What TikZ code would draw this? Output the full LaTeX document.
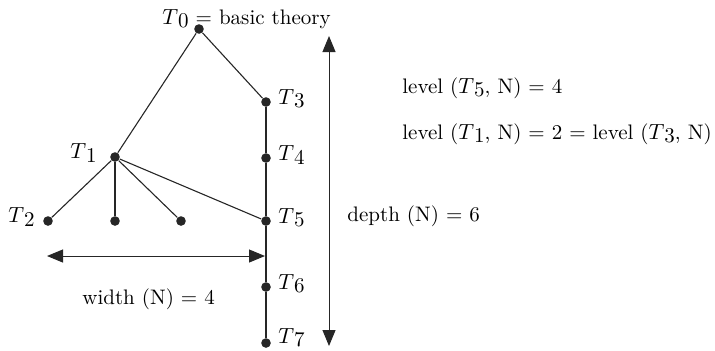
\documentclass[tikz,border=0pt]{standalone}
\usepackage{tikz}
\usetikzlibrary{arrows.meta,positioning}

% theory name with its number set level with the letter, a little lower
\newcommand{\tlab}[1]{$T$\raisebox{-0.35ex}{#1}}

\begin{document}
\begin{tikzpicture}[x=0.5pt,y=-0.5pt,
    every node/.style={font=\fontsize{10.5}{12}\selectfont},
    dot/.style={circle,fill=black!85,inner sep=0pt,minimum size=4.8pt},
    txt/.style={inner sep=0pt,anchor=base west},
    edge/.style={black!85,line width=0.55pt},
    bigarrow/.style={black!85,line width=0.5pt,
      {Triangle[length=8pt,width=6.5pt]}-{Triangle[length=8pt,width=6.5pt]}}]
  \useasboundingbox (0,0) rectangle (715,350);
  % the theories
  \foreach \name/\x/\y in {
    t0/199/29, t1/115/157, t2/48/221, ta/115/221, tb/181/221,
    t3/266/102, t4/266/158, t5/266/221, t6/266/287, t7/266/343}
    \node[dot] (\name) at (\x,\y) {};
  \foreach \a/\b in {t0/t1, t0/t3, t3/t4, t4/t5, t5/t6, t6/t7,
    t1/t2, t1/ta, t1/tb, t1/t5}
    \draw[edge] (\a) -- (\b);
  % names
  \node[txt] (l0) at (162,24) {\tlab{0} = basic theory};
  \node[left=3pt of t1,yshift=2pt] (l1) {\tlab{1}};
  \node[left=0.5pt of t2,yshift=2pt] (l2) {\tlab{2}};
  \foreach \n in {3,4,5,6}
    \node[right=0pt of t\n,yshift=1.5pt] (l\n) {\tlab{\n}};
  \node[right=0pt of t7,yshift=2.5pt,inner ysep=1pt] (l7) {\tlab{7}};
  % width and depth
  \coordinate (wl) at (47,256);
  \coordinate (wr) at (265,256);
  \draw[bigarrow] (wl) -- (wr);
  \coordinate (dtop) at (329,36);
  \coordinate (dbot) at (329,346);
  \draw[bigarrow] (dtop) -- (dbot);
  \node[txt] (wtext) at (82,304) {width (N) = 4};
  \node[txt] (dtext) at (347,221) {depth (N) = 6};
  \node[txt] (lev5) at (402,93) {level (\tlab{5}, N) = 4};
  \node[txt] (lev13) at (402,139) {level (\tlab{1}, N) = 2 = level (\tlab{3}, N)};
\end{tikzpicture}
\end{document}
